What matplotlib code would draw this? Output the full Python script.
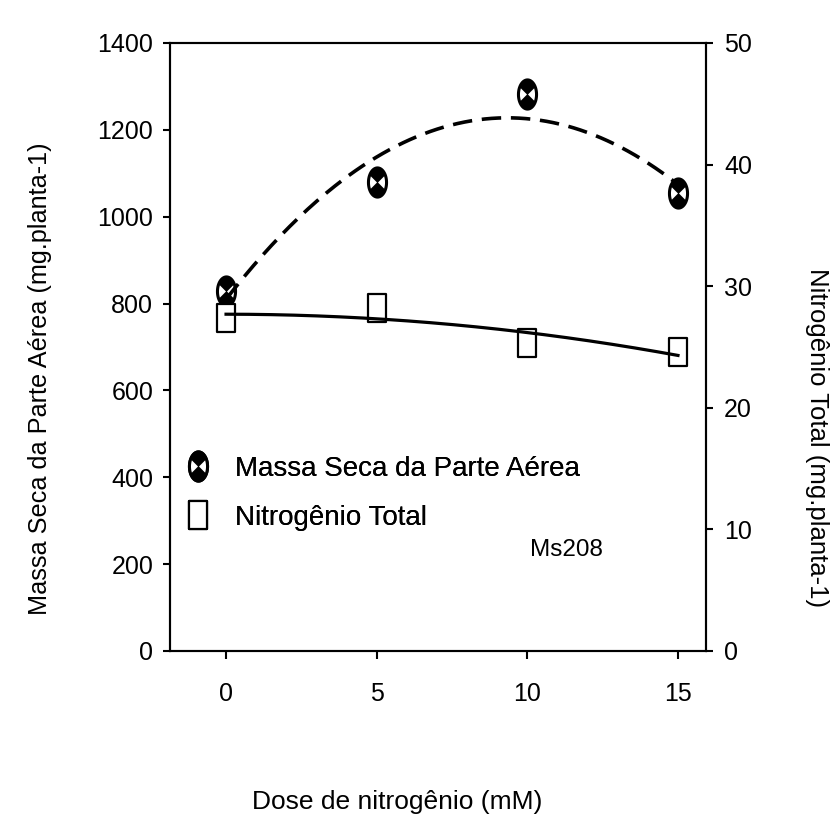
import numpy as np
import matplotlib
matplotlib.use("Agg")
import matplotlib.pyplot as plt
from matplotlib.path import Path
from matplotlib.lines import Line2D
from matplotlib.legend_handler import HandlerTuple

# Dados
doses = [0, 5, 10, 15]  # mM
massa_seca = [829, 1080, 1283, 1055]  # mg.planta-1 (eixo esquerdo)
nitrogenio = [27.4, 28.2, 25.3, 24.6]  # mg.planta-1 (eixo direito)

rotulos_legenda = ["Massa Seca da Parte Aérea", "Nitrogênio Total"]
texto_anotacao = "Ms208"

plt.rcParams['lines.scale_dashes'] = False
FONTE = ['Liberation Sans', 'DejaVu Sans']

# Marcadores personalizados (elípticos, como no original)
A = 0.62
t = np.linspace(0, 2 * np.pi, 80)
elipse = Path(np.column_stack([A * np.cos(t), np.sin(t)]), closed=True)


def cunhas():
    verts, codes = [], []
    for a0, a1 in [(32, 148), (212, 328)]:
        tt = np.radians(np.linspace(a0, a1, 30))
        pts = [(0, 0)] + list(zip(A * np.cos(tt), np.sin(tt))) + [(0, 0)]
        verts += pts
        codes += [Path.MOVETO] + [Path.LINETO] * (len(pts) - 2) + [Path.CLOSEPOLY]
    return Path(verts, codes)


ampulheta = cunhas()
B = 0.63
retangulo = Path([(-B, -1), (B, -1), (B, 1), (-B, 1), (-B, -1)], closed=True)

fig = plt.figure(figsize=(8.35, 8.17), dpi=100)
ax = fig.add_axes([0.2036, 0.2032, 0.6419, 0.7442])
ax2 = ax.twinx()

# Ajustes quadráticos
xx = np.linspace(0, 15, 200)
c1 = np.polyfit(doses, massa_seca, 2)
c2 = np.polyfit(doses, nitrogenio, 2)

ax.plot(doses, massa_seca, linestyle='none', marker=elipse, ms=21,
        mfc='white', mec='black', mew=2.2, zorder=2)
ax.plot(doses, massa_seca, linestyle='none', marker=ampulheta, ms=21,
        mfc='black', mec='black', mew=0.5, zorder=2)
ax.plot(xx, np.polyval(c1, xx), color='black', lw=2.6,
        dashes=(14, 7), zorder=3)

ax2.plot(doses, nitrogenio, linestyle='none', marker=retangulo, ms=19.5,
         mfc='white', mec='black', mew=1.6, zorder=2)
ax2.plot(xx, np.polyval(c2, xx), color='black', lw=2.3, zorder=3)

ax.set_xlim(-1.86, 15.93)
ax.set_ylim(0, 1400)
ax2.set_ylim(0, 50)
ax.set_xticks(doses)
ax.set_yticks(np.arange(0, 1401, 200))
ax2.set_yticks(np.arange(0, 51, 10))

for a in (ax, ax2):
    for s in a.spines.values():
        s.set_linewidth(1.5)
    for lab in a.get_xticklabels() + a.get_yticklabels():
        lab.set_family(FONTE)
        lab.set_fontsize(18)
ax.tick_params(axis='y', direction='out', length=5, width=1.5, pad=7)
ax.tick_params(axis='x', direction='out', length=6, width=1.5, pad=16)
ax2.tick_params(axis='y', direction='out', length=5, width=1.5, pad=8)

# Legenda
h1 = Line2D([], [], linestyle='none', marker=elipse, ms=21, mfc='white',
            mec='black', mew=2.2)
h1b = Line2D([], [], linestyle='none', marker=ampulheta, ms=21, mfc='black',
             mec='black', mew=0.5)
h2 = Line2D([], [], linestyle='none', marker=retangulo, ms=19.5, mfc='white',
            mec='black', mew=1.6)
leg = ax.legend([(h1, h1b), h2], rotulos_legenda, loc='upper left',
                bbox_to_anchor=(-0.026, 0.362), frameon=False, handlelength=1.2,
                handletextpad=0.75, labelspacing=0.83,
                handler_map={tuple: HandlerTuple(ndivide=1, pad=0)},
                prop={'family': FONTE, 'size': 20})
ax.add_artist(leg)
ax.text(10.1, 232, texto_anotacao, fontsize=17.5, family=FONTE, va='center')

fig.text(0.4754, 0.018, "Dose de nitrogênio (mM)", fontsize=19, family=FONTE,
         ha='center', va='center')
fig.text(0.048, 0.5367, "Massa Seca da Parte Aérea (mg.planta-1)", fontsize=18.2,
         family=FONTE, rotation=90, ha='center', va='center')
fig.text(0.978, 0.4639, "Nitrogênio Total (mg.planta-1)", fontsize=18.5,
         family=FONTE, rotation=270, ha='center', va='center')

fig.savefig("out.png", dpi=100)
